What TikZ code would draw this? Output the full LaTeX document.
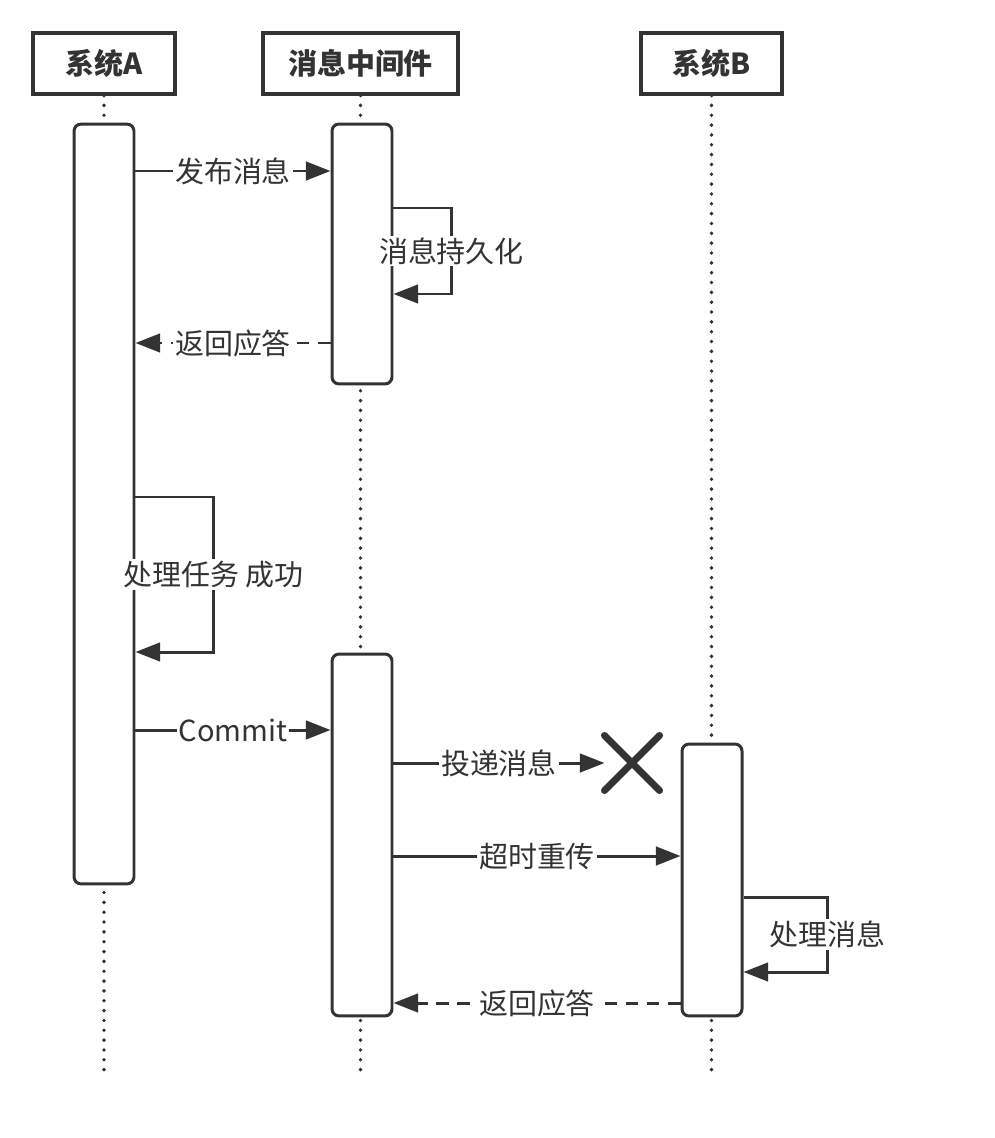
\documentclass[tikz,border=0pt]{standalone}
\usepackage{fontspec}
\setmainfont{Noto Sans CJK SC}
\usetikzlibrary{arrows.meta,shapes.misc}
\definecolor{ink}{HTML}{333333}

\tikzset{
  obj/.style={draw=ink,line width=1.8pt,minimum height=1.22cm,inner sep=0pt,text=ink,font=\fontsize{16.5}{20}\selectfont\bfseries},
  act/.style={draw=ink,fill=white,line width=1.7pt,rounded corners=4pt,minimum width=1.2cm,inner sep=0pt},
  life/.style={draw=ink,line width=2.2pt,line cap=round,dash pattern=on 0pt off 5.6pt},
  msg/.style={draw=ink,line width=1.7pt,-{Triangle[length=14pt,width=10.5pt]}},
  reply/.style={msg,dash pattern=on 7pt off 5pt},
  lbl/.style={fill=white,text=ink,inner sep=1pt,font=\fontsize{16.5}{20}\selectfont}
}

\begin{document}
\begin{tikzpicture}[x=0.02cm,y=-0.02cm]
\useasboundingbox (0,0) rectangle (994,1138);

\node[obj,minimum width=2.84cm] (sysA) at (104,63.5) {系统A};
\node[obj,minimum width=3.9cm] (mq) at (360.5,63.5) {消息中间件};
\node[obj,minimum width=2.82cm] (sysB) at (711.5,63.5) {系统B};

\coordinate (endA) at (104,1078);
\coordinate (endM) at (360.5,1078);
\coordinate (endB) at (711.5,1078);
\draw[life] (sysA.south) -- (endA);
\draw[life] (mq.south) -- (endM);
\draw[life] (sysB.south) -- (endB);

\node[act,minimum height=15.2cm] (actA) at (104,504) {};
\node[act,minimum height=5.2cm] (actM1) at (362,254) {};
\node[act,minimum height=7.24cm] (actM2) at (362,835) {};
\node[act,minimum height=5.44cm] (actB) at (712,880) {};

\draw[msg] (actA.east |- 0,171) -- node[lbl]{发布消息} (actM1.west |- 0,171);
\draw[msg] (actM1.east |- 0,208) -- ++(58,0) -- node[lbl]{消息持久化} ++(0,86) -- (actM1.east |- 0,294);
\draw[reply] (actM1.west |- 0,343) -- node[lbl]{返回应答} (actA.east |- 0,343);
\draw[msg] (actA.east |- 0,497) -- ++(78,0) -- node[lbl]{处理任务 成功} ++(0,155) -- (actA.east |- 0,652);
\draw[msg] (actA.east |- 0,730) -- node[lbl]{Commit} (actM2.west |- 0,730);

\node[cross out,draw=ink,line width=4pt,line cap=round,minimum size=0.96cm] (lost) at (632,763) {};
\draw[msg] (actM2.east |- 0,763) -- node[lbl]{投递消息} (lost.west);
\draw[msg] (actM2.east |- 0,856) -- node[lbl]{超时重传} (actB.west |- 0,856);
\draw[msg] (actB.east |- 0,897) -- ++(84,0) -- node[lbl]{处理消息} ++(0,75) -- (actB.east |- 0,972);
\draw[reply] (actB.west |- 0,1003) -- node[lbl]{返回应答} (actM2.east |- 0,1003);
\end{tikzpicture}
\end{document}
